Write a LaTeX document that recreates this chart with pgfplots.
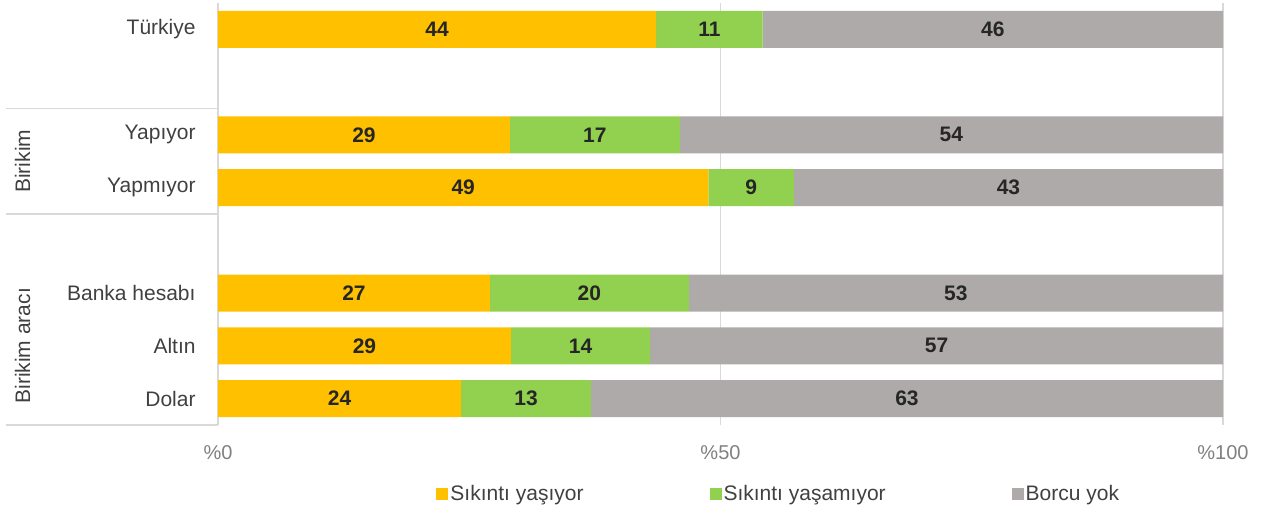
\documentclass[border=0pt]{standalone}
\usepackage{fontspec}
\setmainfont{Liberation Sans}
\usepackage{pgfplots}
\pgfplotsset{compat=1.18}
\definecolor{cY}{HTML}{FFC000}
\definecolor{cG}{HTML}{92D050}
\definecolor{cGr}{HTML}{AEAAAA}
\definecolor{lineg}{HTML}{D9D9D9}
\definecolor{txt}{HTML}{404040}
\definecolor{tickc}{HTML}{808080}
\definecolor{numc}{HTML}{262626}
\begin{document}
\begin{tikzpicture}
\useasboundingbox (0,0) rectangle (633pt,256.5pt);
\pgfplotsset{common/.style={
  at={(109pt,44pt)}, anchor=south west, scale only axis,
  width=502.5pt, height=211pt,
  xmin=0, xmax=100, ymin=-0.5, ymax=7.5, y dir=reverse, clip=false}}
\begin{axis}[common, xbar stacked, bar width=18.5pt,
  axis line style={draw=none},
  xtick={0,50,100}, xticklabels={\%0,\%50,\%100},
  xmajorgrids, grid style={lineg, line width=0.75pt},
  major tick length=0pt,
  ytick={0,2,3,5,6,7},
  yticklabels={Türkiye,Yapıyor,Yapmıyor,Banka hesabı,Altın,Dolar},
  yticklabel style={font=\fontsize{10.5}{12}\selectfont, text=txt, xshift=-7.7pt},
  xticklabel style={font=\fontsize{10}{12}\selectfont, text=tickc, yshift=-6.5pt},
  legend columns=-1,
  legend style={at={(0.217,-0.1635)}, anchor=west, draw=none, fill=none,
    inner sep=0pt, font=\fontsize{10.5}{12}\selectfont, text=txt,
    nodes={inner sep=1pt},
    /tikz/every even column/.append style={column sep=62pt}},
  legend image code/.code={\fill[#1] (0pt,-3pt) rectangle (6pt,3pt);},
]
\addplot[fill=cY, draw=none] coordinates {(43.6,0) (29.05,2) (48.8,3) (27.05,5) (29.15,6) (24.2,7)};
\addplot[fill=cG, draw=none] coordinates {(10.6,0) (16.9,2) (8.5,3) (19.8,5) (13.85,6) (12.9,7)};
\addplot[fill=cGr, draw=none] coordinates {(45.8,0) (54.05,2) (42.7,3) (53.15,5) (57.0,6) (62.9,7)};
\legend{Sıkıntı yaşıyor, Sıkıntı yaşamıyor, Borcu yok}
\draw[lineg, line width=0.75pt] (axis cs:-21.1,1.5) -- (axis cs:0,1.5);
\draw[lineg, line width=0.75pt] (axis cs:-21.1,3.5) -- (axis cs:0,3.5);
\draw[lineg, line width=0.75pt] (axis cs:-21.1,7.5) -- (axis cs:0,7.5);
\node[rotate=90, font=\fontsize{10.5}{12}\selectfont, text=txt] at (axis cs:-19.45,2.5) {Birikim};
\node[rotate=90, font=\fontsize{10.5}{12}\selectfont, text=txt] at (axis cs:-19.45,6) {Birikim aracı};
\end{axis}
\begin{axis}[common, hide axis]
\addplot[draw=none, mark=none, point meta=explicit symbolic, nodes near coords,
  every node near coord/.append style={anchor=center, font=\fontsize{10.5}{12}\selectfont\bfseries, text=numc}]
  coordinates {
  (21.8,0) [44] (48.9,0) [11] (77.1,0) [46]
  (14.525,2) [29] (37.5,2) [17] (72.975,2) [54]
  (24.4,3) [49] (53.05,3) [9] (78.65,3) [43]
  (13.525,5) [27] (36.95,5) [20] (73.425,5) [53]
  (14.575,6) [29] (36.075,6) [14] (71.5,6) [57]
  (12.1,7) [24] (30.65,7) [13] (68.55,7) [63]
  };
\end{axis}
\end{tikzpicture}
\end{document}
